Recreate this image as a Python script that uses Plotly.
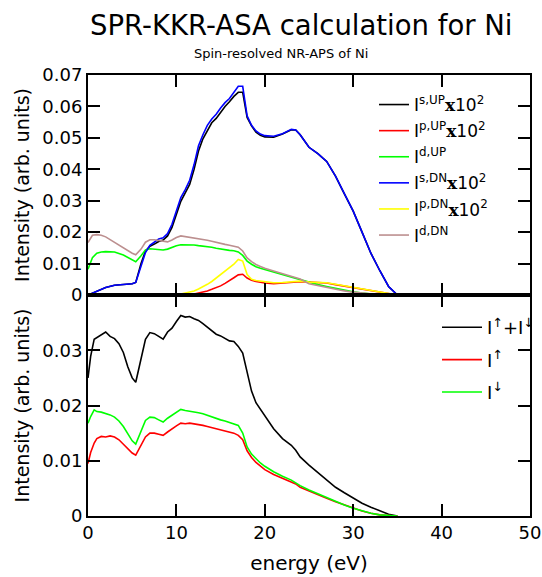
import plotly.graph_objects as go

# energy grid (eV) for the partial, angular-momentum resolved spectra
e_top = [0, 0.5, 1, 1.5, 2, 3, 4, 5, 5.4, 6, 6.5, 7, 7.5, 8, 8.5, 9, 9.5, 10,
         10.5, 11, 11.5, 12, 12.5, 13, 13.5, 14, 14.5, 15, 15.5, 16, 16.5, 17,
         17.5, 18, 18.5, 19, 19.5, 20, 21, 22, 23, 23.5, 24, 25, 26, 27, 28,
         29, 30, 31, 32, 33, 34, 35]

s_up = [0, 0.0006, 0.0012, 0.0018, 0.0024, 0.0031, 0.0034, 0.0036, 0.0040,
        0.0100, 0.0140, 0.0155, 0.0162, 0.0170, 0.0175, 0.0188, 0.0215, 0.0255,
        0.0298, 0.0325, 0.0352, 0.0400, 0.0458, 0.0497, 0.0525, 0.0548, 0.0562,
        0.0582, 0.0600, 0.0615, 0.0632, 0.0645, 0.0645, 0.0565, 0.0538, 0.0518,
        0.0508, 0.0503, 0.0502, 0.0512, 0.0526, 0.0525, 0.0510, 0.0470, 0.0450,
        0.0425, 0.0378, 0.0322, 0.0267, 0.0200, 0.0133, 0.0078, 0.0027, 0.0]
p_up = [0, 0, 0, 0, 0, 0, 0, 0, 0, 0, 0, 0, 0, 0, 0, 0, 0, 0,
        0, 0.0001, 0.0002, 0.0003, 0.0006, 0.0009, 0.0013, 0.0018, 0.0023,
        0.0029, 0.0037, 0.0045, 0.0055, 0.0064, 0.0066, 0.0054, 0.0047, 0.0043,
        0.0040, 0.0038, 0.0036, 0.0038, 0.0042, 0.0042, 0.0042, 0.0041, 0.0040,
        0.0038, 0.0033, 0.0028, 0.0024, 0.0019, 0.0013, 0.0008, 0.0003, 0.0]
d_up = [0.0082, 0.0119, 0.0133, 0.0137, 0.0138, 0.0137, 0.0127, 0.0112, 0.0106,
        0.0125, 0.0143, 0.0147, 0.0146, 0.0144, 0.0143, 0.0146, 0.0152, 0.0157,
        0.0160, 0.0160, 0.0159, 0.0159, 0.0157, 0.0156, 0.0155, 0.0152, 0.0149,
        0.0146, 0.0144, 0.0142, 0.0141, 0.0137, 0.0126, 0.0108, 0.0098, 0.0090,
        0.0085, 0.0081, 0.0072, 0.0064, 0.0057, 0.0053, 0.0048, 0.0040, 0.0033,
        0.0027, 0.0021, 0.0015, 0.0010, 0.0006, 0.0003, 0.0001, 0.0, 0.0]
s_dn = [0, 0.0006, 0.0012, 0.0018, 0.0024, 0.0031, 0.0034, 0.0036, 0.0040,
        0.0095, 0.0135, 0.0158, 0.0168, 0.0178, 0.0182, 0.0195, 0.0225, 0.0270,
        0.0310, 0.0335, 0.0365, 0.0415, 0.0475, 0.0510, 0.0540, 0.0560, 0.0575,
        0.0595, 0.0612, 0.0625, 0.0645, 0.0664, 0.0664, 0.0570, 0.0540, 0.0522,
        0.0512, 0.0507, 0.0505, 0.0513, 0.0527, 0.0525, 0.0510, 0.0470, 0.0450,
        0.0425, 0.0378, 0.0322, 0.0267, 0.0200, 0.0133, 0.0078, 0.0027, 0.0]
p_dn = [0, 0, 0, 0, 0, 0, 0, 0, 0, 0, 0, 0, 0, 0, 0, 0, 0.0001, 0.0002,
        0.0003, 0.0006, 0.0009, 0.0013, 0.0019, 0.0026, 0.0034, 0.0043, 0.0054,
        0.0066, 0.0077, 0.0086, 0.0098, 0.0113, 0.0108, 0.0065, 0.0050, 0.0046,
        0.0044, 0.0042, 0.0039, 0.0040, 0.0043, 0.0044, 0.0044, 0.0041, 0.0041,
        0.0039, 0.0034, 0.0029, 0.0025, 0.0020, 0.0014, 0.0008, 0.0003, 0.0]
d_dn = [0.0167, 0.0190, 0.0192, 0.0190, 0.0185, 0.0167, 0.0150, 0.0133, 0.0128,
        0.0146, 0.0168, 0.0176, 0.0176, 0.0174, 0.0171, 0.0169, 0.0175, 0.0183,
        0.0188, 0.0186, 0.0184, 0.0182, 0.0179, 0.0176, 0.0174, 0.0171, 0.0167,
        0.0164, 0.0161, 0.0158, 0.0156, 0.0152, 0.0140, 0.0118, 0.0106, 0.0097,
        0.0091, 0.0085, 0.0076, 0.0068, 0.0060, 0.0056, 0.0051, 0.0036, 0.0030,
        0.0024, 0.0018, 0.0013, 0.0009, 0.0006, 0.0003, 0.0001, 0.0, 0.0]

# energy grid (eV) for the spin-resolved totals
e_bot = [0, 0.3, 0.7, 1, 1.5, 2, 2.5, 3, 3.5, 4, 4.5, 5, 5.4, 6, 6.5, 7, 7.5,
         8, 8.5, 9, 9.5, 10, 10.5, 11, 11.5, 12, 12.5, 13, 13.5, 14, 14.5, 15,
         15.5, 16, 16.5, 17, 17.5, 18, 18.5, 19, 19.5, 20, 21, 22, 23, 23.5,
         24, 25, 26, 27, 28, 29, 30, 31, 32, 33, 34, 35]

i_total = [0.0250, 0.0289, 0.0320, 0.0323, 0.0327, 0.0333, 0.0325, 0.0321,
           0.0312, 0.0296, 0.0270, 0.0250, 0.0242, 0.0285, 0.0320, 0.0332,
           0.0330, 0.0325, 0.0320, 0.0333, 0.0340, 0.0352, 0.0363, 0.0360,
           0.0361, 0.0357, 0.0354, 0.0348, 0.0342, 0.0336, 0.0329, 0.0326,
           0.0322, 0.0317, 0.0316, 0.0307, 0.0295, 0.0258, 0.0226, 0.0205,
           0.0193, 0.0182, 0.0158, 0.0140, 0.0128, 0.0119, 0.0107, 0.0092,
           0.0079, 0.0066, 0.0052, 0.0042, 0.0032, 0.0023, 0.0016, 0.0009,
           0.0003, 0.0]
i_up = [0.0095, 0.0115, 0.0132, 0.0140, 0.0144, 0.0143, 0.0145, 0.0143, 0.0138,
        0.0130, 0.0122, 0.0114, 0.0110, 0.0127, 0.0143, 0.0150, 0.0150, 0.0148,
        0.0146, 0.0152, 0.0158, 0.0163, 0.0168, 0.0167, 0.0168, 0.0167, 0.0165,
        0.0164, 0.0162, 0.0160, 0.0158, 0.0155, 0.0153, 0.0151, 0.0150, 0.0146,
        0.0138, 0.0118, 0.0106, 0.0097, 0.0090, 0.0084, 0.0075, 0.0068, 0.0062,
        0.0058, 0.0052, 0.0045, 0.0039, 0.0032, 0.0026, 0.0020, 0.0014, 0.0009,
        0.0005, 0.0002, 0.0001, 0.0]
i_dn = [0.0168, 0.0180, 0.0192, 0.0189, 0.0188, 0.0186, 0.0183, 0.0179, 0.0172,
        0.0162, 0.0150, 0.0136, 0.0130, 0.0152, 0.0173, 0.0179, 0.0178, 0.0174,
        0.0170, 0.0177, 0.0182, 0.0187, 0.0193, 0.0191, 0.0190, 0.0188, 0.0187,
        0.0185, 0.0182, 0.0179, 0.0177, 0.0174, 0.0172, 0.0169, 0.0167, 0.0164,
        0.0150, 0.0125, 0.0112, 0.0103, 0.0096, 0.0090, 0.0080, 0.0072, 0.0065,
        0.0060, 0.0055, 0.0047, 0.0040, 0.0033, 0.0026, 0.0020, 0.0014, 0.0009,
        0.0005, 0.0002, 0.0001, 0.0]

FONT = "DejaVu Sans"
X100 = "<span style=\"font-family:'DejaVu Serif'\"><b>x</b></span>10<sup>2</sup>"

top_series = [
    ("I<sup>s,UP</sup>" + X100, s_up, "black"),
    ("I<sup>p,UP</sup>" + X100, p_up, "#ff0000"),
    ("I<sup>d,UP</sup>", d_up, "#00ff00"),
    ("I<sup>s,DN</sup>" + X100, s_dn, "#0000ff"),
    ("I<sup>p,DN</sup>" + X100, p_dn, "#ffff00"),
    ("I<sup>d,DN</sup>", d_dn, "#bc8f8f"),
]
bot_series = [
    ("I<sup>↑</sup>+I<sup>↓</sup>", i_total, "black"),
    ("I<sup>↑</sup>", i_up, "#ff0000"),
    ("I<sup>↓</sup>", i_dn, "#00ff00"),
]

fig = go.Figure()

for k, (name, vals, col) in enumerate(top_series):
    fig.add_trace(go.Scatter(x=e_top, y=vals, mode="lines", name=name,
                             line=dict(color=col, width=1.6),
                             xaxis="x", yaxis="y", legend="legend",
                             legendgroup=f"t{k}"))

for k, (name, vals, col) in enumerate(bot_series):
    fig.add_trace(go.Scatter(x=e_bot, y=vals, mode="lines", name=name,
                             line=dict(color=col, width=1.6),
                             xaxis="x2", yaxis="y2", legend="legend2",
                             legendgroup=f"b{k}"))

# plot frame in window pixels: x 88..530, y 75..516, panels split at y=295
L, R, T, B = 88, 530, 75, 516
W, H = 542, 577
split = (B - 295) / (B - T)


def px_x(p):
    return (p - L) / (R - L)


def px_y(p):
    return (B - p) / (B - T)


ax_common = dict(showline=True, linewidth=2, linecolor="black", mirror="ticks",
                 ticks="inside", ticklen=12, tickwidth=2, tickcolor="black",
                 showgrid=False, zeroline=False, automargin=False,
                 tickfont=dict(family=FONT, size=18, color="black"))

fig.update_layout(
    width=W, height=H,
    margin=dict(l=L, r=W - R, t=T, b=H - B, autoexpand=False),
    paper_bgcolor="white", plot_bgcolor="white",
    font=dict(family=FONT, color="black"),
    xaxis=dict(ax_common, domain=[0, 1], range=[0, 50], anchor="y",
               linewidth=1.5,
               tickvals=[0, 10, 20, 30, 40, 50], showticklabels=False),
    yaxis=dict(ax_common, domain=[split, 1], range=[0, 0.07], anchor="x",
               tickvals=[0, 0.01, 0.02, 0.03, 0.04, 0.05, 0.06, 0.07],
               ticktext=["0", "0.01", "0.02", "0.03", "0.04", "0.05", "0.06", "0.07"],
               title=dict(text="Intensity (arb. units)", standoff=8,
                          font=dict(family=FONT, size=19))),
    xaxis2=dict(ax_common, domain=[0, 1], range=[0, 50], anchor="y2",
                linewidth=1.5,
                tickvals=[0, 10, 20, 30, 40, 50],
                title=dict(text="energy (eV)", standoff=14,
                           font=dict(family=FONT, size=20))),
    yaxis2=dict(ax_common, domain=[0, split], range=[0, 0.04], anchor="x2",
                tickvals=[0, 0.01, 0.02, 0.03],
                ticktext=["0", "0.01", "0.02", "0.03"],
                title=dict(text="Intensity (arb. units)", standoff=8,
                           font=dict(family=FONT, size=19))),
    legend=dict(x=px_x(374), y=px_y(87), xanchor="left", yanchor="top",
                bgcolor="rgba(0,0,0,0)", tracegroupgap=1,
                font=dict(family=FONT, size=17, color="black")),
    legend2=dict(x=px_x(437), y=px_y(309), xanchor="left", yanchor="top",
                 itemwidth=40,
                 bgcolor="rgba(0,0,0,0)", tracegroupgap=6,
                 font=dict(family=FONT, size=18, color="black")),
    showlegend=True,
)

# title lines, placed by window pixel position
fig.add_annotation(text="SPR-KKR-ASA calculation for Ni",
                   x=px_x(301), y=px_y(25), xanchor="center", yanchor="middle",
                   xref="paper", yref="paper", showarrow=False,
                   font=dict(family=FONT, size=27.5, color="black"))
fig.add_annotation(text="Spin-resolved NR-APS of Ni",
                   x=px_x(281), y=px_y(53), xanchor="center", yanchor="middle",
                   xref="paper", yref="paper", showarrow=False,
                   font=dict(family=FONT, size=13, color="black"))

# the page body has a default 8px margin; drop it so the figure fills the window
fig.write_html("out.html", config={"displayModeBar": False},
               post_script="document.body.style.margin = '0';")
